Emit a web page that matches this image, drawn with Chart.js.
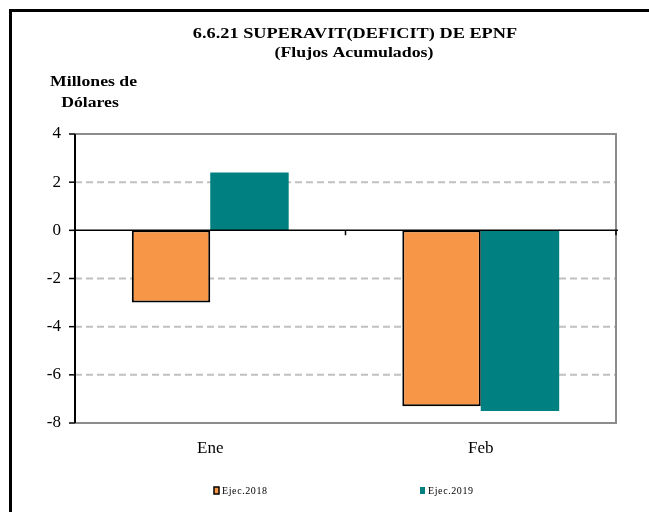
<!DOCTYPE html>
<html>
<head>
<meta charset="utf-8">
<script src="https://cdn.jsdelivr.net/npm/chart.js@4"></script>
<style>
  html, body { margin: 0; padding: 0; background: #fff; }
  #wrap { position: relative; width: 649px; height: 512px; overflow: hidden; }
  #frame { position: absolute; left: 9px; top: 9px; width: 700px; height: 600px;
           border-left: 3px solid #000; border-top: 3px solid #000; }
  canvas { position: absolute; left: 0; top: 0; }
</style>
</head>
<body>
<div id="wrap">
  <div id="frame"></div>
  <canvas id="chart" width="649" height="512"></canvas>
</div>
<script>
// Datos del grafico
const meses = ['Ene', 'Feb'];
const ejec2018 = [-3.0, -7.3];
const ejec2019 = [2.4, -7.5];
const series = ['Ejec.2018', 'Ejec.2019'];
const titulo = '6.6.21 SUPERAVIT(DEFICIT) DE EPNF';
const subtitulo = '(Flujos Acumulados)';
const unidades = ['Millones de', 'Dólares'];

const serif = "'Liberation Serif', 'Times New Roman', serif";

// texto algo mas ancho, como en el original
function textoAncho(ctx, txt, x, y, sx) {
    ctx.save();
    ctx.translate(x, y);
    ctx.scale(sx, 1);
    ctx.fillText(txt, 0, 0);
    ctx.restore();
}

// Marco del area de trazado, rejilla, linea del cero y textos
const marco = {
    id: 'marco',
    beforeDatasetsDraw(chart) {
        const { ctx, chartArea: a, scales: { y } } = chart;
        ctx.save();
        y.ticks.forEach(t => {
            const py = y.getPixelForValue(t.value);
            // lineas punteadas grises
            if (t.value !== 0 && t.value !== y.min && t.value !== y.max) {
                ctx.strokeStyle = '#c0c0c0';
                ctx.lineWidth = 2;
                ctx.setLineDash([7, 4]);
                ctx.beginPath();
                ctx.moveTo(a.left, py);
                ctx.lineTo(a.right, py);
                ctx.stroke();
            }
            // marca del eje
            ctx.setLineDash([]);
            ctx.strokeStyle = '#000';
            ctx.lineWidth = 1.5;
            ctx.beginPath();
            ctx.moveTo(a.left - 6, py);
            ctx.lineTo(a.left, py);
            ctx.stroke();
        });
        ctx.restore();
    },
    afterDatasetsDraw(chart) {
        const { ctx, chartArea: a, scales: { x, y } } = chart;
        ctx.save();
        // borde gris arriba, derecha y abajo
        ctx.strokeStyle = '#8c8c8c';
        ctx.lineWidth = 2;
        ctx.beginPath();
        ctx.moveTo(a.left, a.top);
        ctx.lineTo(a.right, a.top);
        ctx.lineTo(a.right, a.bottom);
        ctx.lineTo(a.left, a.bottom);
        ctx.stroke();
        // eje vertical negro
        ctx.strokeStyle = '#000';
        ctx.beginPath();
        ctx.moveTo(a.left, a.top);
        ctx.lineTo(a.left, a.bottom);
        ctx.stroke();
        // linea del cero con marcas entre categorias
        const y0 = y.getPixelForValue(0);
        ctx.lineWidth = 1.5;
        ctx.beginPath();
        ctx.moveTo(a.left, y0);
        ctx.lineTo(a.right + 2, y0);
        for (let i = 0; i <= meses.length; i++) {
            const px = i === 0 ? a.left : i === meses.length ? a.right :
                (x.getPixelForValue(i - 1) + x.getPixelForValue(i)) / 2;
            ctx.moveTo(px, y0);
            ctx.lineTo(px, y0 + 5);
        }
        ctx.stroke();
        ctx.restore();
    },
    afterDraw(chart) {
        const { ctx } = chart;
        ctx.save();
        ctx.fillStyle = '#000';
        ctx.textAlign = 'center';
        ctx.textBaseline = 'middle';
        ctx.font = 'bold 15.5px ' + serif;
        textoAncho(ctx, titulo, 355, 34, 1.18);
        textoAncho(ctx, subtitulo, 354, 53, 1.15);
        ctx.font = 'bold 14.5px ' + serif;
        textoAncho(ctx, unidades[0], 93.5, 82, 1.22);
        textoAncho(ctx, unidades[1], 90, 103, 1.22);

        // leyenda
        const ds = chart.data.datasets;
        const pos = [214, 420];
        ctx.font = '10px ' + serif;
        ctx.letterSpacing = '0.6px';
        ctx.textAlign = 'left';
        ds.forEach((d, i) => {
            ctx.fillStyle = d.backgroundColor;
            ctx.fillRect(pos[i], 487, 5, 7);
            if (d.borderWidth) {
                ctx.strokeStyle = '#000';
                ctx.lineWidth = 1.5;
                ctx.strokeRect(pos[i], 487, 5, 7);
            }
            ctx.fillStyle = '#000';
            ctx.fillText(d.label, pos[i] + 8, 491.5);
        });
        ctx.restore();
    }
};

new Chart(document.getElementById('chart').getContext('2d'), {
    type: 'bar',
    data: {
        labels: meses,
        datasets: [{
            label: series[0],
            data: ejec2018,
            backgroundColor: '#F79646',
            borderColor: '#000',
            borderWidth: 2,
            borderSkipped: false,
            inflateAmount: 0
        }, {
            label: series[1],
            data: ejec2019,
            backgroundColor: '#008080',
            borderWidth: 0
        }]
    },
    options: {
        responsive: false,
        animation: false,
        layout: { padding: { left: 0, right: 33, top: 134, bottom: 0 } },
        datasets: {
            bar: { categoryPercentage: 0.58, barPercentage: 1.0 }
        },
        scales: {
            x: {
                grid: { display: false },
                border: { display: false },
                ticks: {
                    color: '#000',
                    padding: 7,
                    font: { family: serif, size: 17 }
                },
                afterFit(scale) { scale.height = 89; }
            },
            y: {
                min: -8,
                max: 4,
                border: { display: false },
                grid: { display: false, tickLength: 6 },
                ticks: {
                    stepSize: 2,
                    color: '#000',
                    padding: 8,
                    font: { family: serif, size: 17 }
                },
                afterFit(scale) { scale.width = 75; }
            }
        },
        plugins: {
            legend: { display: false },
            tooltip: { enabled: false }
        }
    },
    plugins: [marco]
});
</script>
</body>
</html>
